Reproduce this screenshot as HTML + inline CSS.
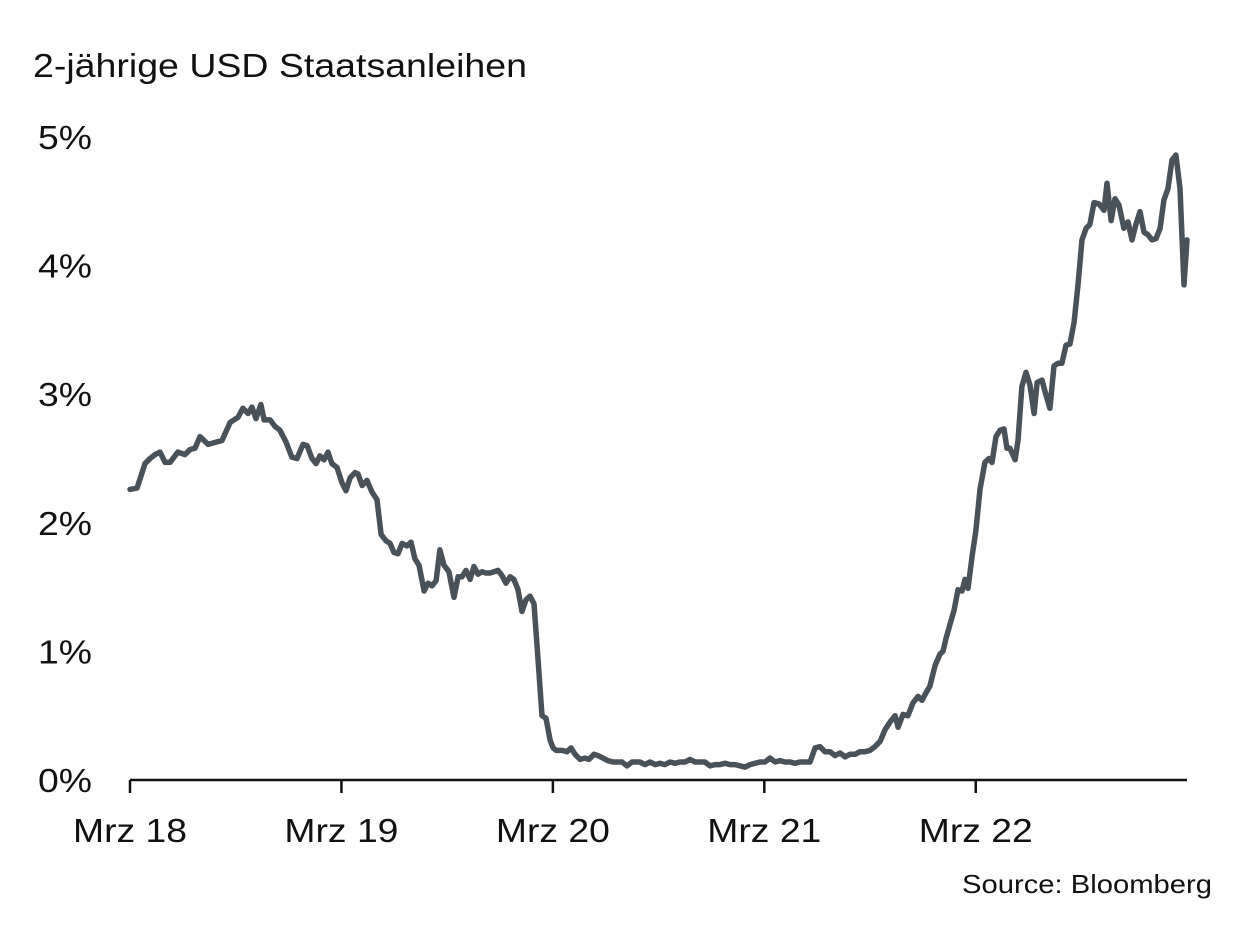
<!DOCTYPE html>
<html><head><meta charset="utf-8"><style>
html,body{margin:0;padding:0;background:#fff;}
svg{display:block;font-family:"Liberation Sans",Arial,sans-serif;}
</style></head><body>
<svg id="chart" width="1249" height="949" viewBox="0 0 1249 949">
<text x="33" y="77" font-size="33" textLength="494" lengthAdjust="spacingAndGlyphs" fill="#111">2-jährige USD Staatsanleihen</text>
<g id="yaxis"></g>
<g id="xaxis"></g>
<path id="line" fill="none" stroke="#4a5259" stroke-width="5.5" stroke-linejoin="round" stroke-linecap="round"/>
<text x="1212" y="893" font-size="26" text-anchor="end" textLength="250" lengthAdjust="spacingAndGlyphs" fill="#111">Source: Bloomberg</text>
</svg>
<script>
const yTicks=[0,1,2,3,4,5];
const yTickLabels=["0%","1%","2%","3%","4%","5%"];
const xTicks=[0,12,24,36,48];
const xTickLabels=["Mrz 18","Mrz 19","Mrz 20","Mrz 21","Mrz 22"];
const months=[0,0.4,0.85,1.14,1.42,1.7,1.99,2.27,2.72,3.12,3.41,3.69,3.97,4.43,5.22,5.68,6.13,6.41,6.7,6.92,7.15,7.43,7.61,7.95,8.23,8.51,8.85,9.19,9.48,9.82,10.05,10.33,10.56,10.78,11.01,11.24,11.46,11.75,12.03,12.26,12.49,12.77,12.94,13.17,13.45,13.73,14.02,14.25,14.53,14.76,14.98,15.21,15.44,15.72,15.95,16.17,16.4,16.69,16.91,17.14,17.37,17.59,17.82,18.1,18.39,18.62,18.84,19.07,19.3,19.52,19.75,19.98,20.2,20.43,20.66,20.88,21.11,21.34,21.57,21.79,22.02,22.25,22.47,22.7,22.93,23.16,23.38,23.61,23.84,24.01,24.18,24.52,24.8,25.03,25.26,25.54,25.82,26.05,26.33,26.56,26.84,27.13,27.41,27.7,27.92,28.21,28.49,28.72,28.94,29.23,29.51,29.8,30.08,30.36,30.65,30.93,31.21,31.5,31.78,32.07,32.35,32.63,32.92,33.2,33.48,33.77,34.05,34.34,34.62,34.9,35.19,35.47,35.75,36.04,36.32,36.61,36.89,37.17,37.46,37.74,38.02,38.31,38.59,38.88,39.16,39.44,39.73,40.01,40.3,40.58,40.86,41.15,41.43,41.71,42,42.28,42.57,42.85,43.13,43.42,43.59,43.87,44.15,44.44,44.72,44.95,45.18,45.4,45.69,45.97,46.14,46.31,46.54,46.77,46.99,47.22,47.39,47.56,47.79,48.01,48.24,48.52,48.75,48.92,49.15,49.38,49.6,49.77,49.94,50.23,50.4,50.62,50.85,51.08,51.31,51.48,51.76,51.99,52.21,52.44,52.67,52.89,53.12,53.35,53.58,53.8,54.03,54.26,54.48,54.71,55,55.28,55.45,55.68,55.9,56.13,56.41,56.64,56.87,57.09,57.32,57.55,57.77,58,58.23,58.46,58.68,58.91,59.14,59.36,59.59,59.82,59.99];
const yields=[2.26,2.27,2.46,2.5,2.53,2.55,2.47,2.47,2.55,2.53,2.57,2.58,2.67,2.61,2.64,2.78,2.82,2.89,2.85,2.9,2.81,2.92,2.8,2.8,2.75,2.72,2.63,2.51,2.5,2.61,2.6,2.5,2.46,2.52,2.49,2.55,2.46,2.43,2.31,2.25,2.35,2.39,2.38,2.29,2.33,2.24,2.18,1.91,1.86,1.84,1.77,1.76,1.84,1.82,1.85,1.72,1.67,1.47,1.53,1.51,1.55,1.79,1.67,1.62,1.42,1.58,1.58,1.63,1.56,1.66,1.6,1.62,1.61,1.61,1.62,1.63,1.59,1.53,1.58,1.56,1.48,1.31,1.4,1.43,1.37,0.93,0.5,0.48,0.31,0.25,0.23,0.23,0.22,0.25,0.2,0.16,0.17,0.16,0.2,0.19,0.17,0.15,0.14,0.14,0.14,0.11,0.14,0.14,0.14,0.12,0.14,0.12,0.13,0.12,0.14,0.13,0.14,0.14,0.16,0.14,0.14,0.14,0.11,0.12,0.12,0.13,0.12,0.12,0.11,0.1,0.12,0.13,0.14,0.14,0.17,0.14,0.15,0.14,0.14,0.13,0.14,0.14,0.14,0.25,0.26,0.22,0.22,0.19,0.21,0.18,0.2,0.2,0.22,0.22,0.23,0.26,0.3,0.39,0.45,0.5,0.41,0.51,0.5,0.6,0.65,0.62,0.68,0.73,0.89,0.98,1,1.1,1.21,1.32,1.48,1.47,1.56,1.49,1.74,1.94,2.26,2.47,2.5,2.47,2.67,2.72,2.73,2.58,2.58,2.49,2.64,3.06,3.17,3.07,2.85,3.09,3.11,2.99,2.89,3.22,3.24,3.24,3.38,3.39,3.56,3.85,4.2,4.29,4.32,4.49,4.48,4.43,4.64,4.35,4.52,4.47,4.29,4.34,4.2,4.32,4.42,4.26,4.24,4.2,4.21,4.29,4.51,4.6,4.82,4.86,4.6,3.85,4.2];
const NS="http://www.w3.org/2000/svg";
const X0=130,PXM=17.62,Y0=780,PXV=128.6;
function xs(m){return X0+m*PXM;}
function ys(v){return Y0-v*PXV;}
const yg=document.getElementById('yaxis'),xg=document.getElementById('xaxis');
yTicks.forEach((t,i)=>{
  const tx=document.createElementNS(NS,'text');
  tx.setAttribute('x',38);tx.setAttribute('y',ys(t)+12);
  tx.setAttribute('font-size','33');tx.setAttribute('fill','#111');
  tx.setAttribute('textLength','54');tx.setAttribute('lengthAdjust','spacingAndGlyphs');
  tx.textContent=yTickLabels[i];
  
  
  yg.appendChild(tx);
});
const ax=document.createElementNS(NS,'line');
ax.setAttribute('x1',X0);ax.setAttribute('x2',1187);ax.setAttribute('y1',Y0);ax.setAttribute('y2',Y0);
ax.setAttribute('stroke','#111');ax.setAttribute('stroke-width','2.5');


xg.appendChild(ax);
xTicks.forEach((t,i)=>{
  const l=document.createElementNS(NS,'line');
  l.setAttribute('x1',xs(t));l.setAttribute('x2',xs(t));l.setAttribute('y1',Y0);l.setAttribute('y2',Y0+13);
  l.setAttribute('stroke','#111');l.setAttribute('stroke-width','2.5');
  
  
  xg.appendChild(l);
  const tx=document.createElementNS(NS,'text');
  tx.setAttribute('x',xs(t)-57);tx.setAttribute('y',842);
  tx.setAttribute('font-size','33');tx.setAttribute('fill','#111');
  tx.setAttribute('textLength','114');tx.setAttribute('lengthAdjust','spacingAndGlyphs');
  tx.textContent=xTickLabels[i];
  
  
  xg.appendChild(tx);
});
let d='';
months.forEach((m,i)=>{d+=(i?'L':'M')+xs(m).toFixed(1)+' '+ys(yields[i]).toFixed(1);});
document.getElementById('line').setAttribute('d',d);
</script>
</body></html>
